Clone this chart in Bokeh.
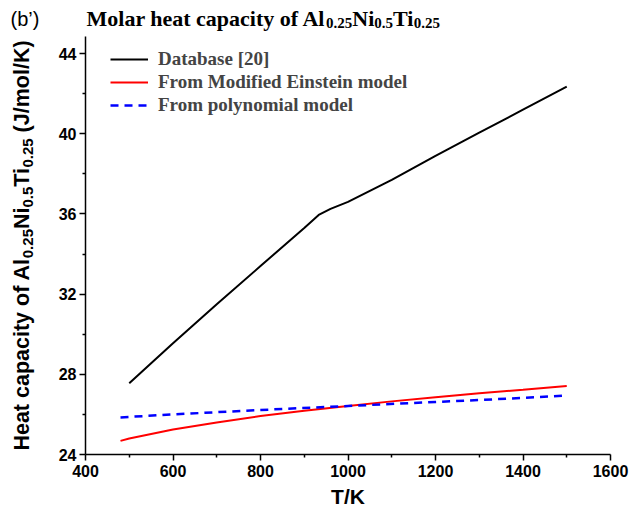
import math
from bokeh.plotting import figure
from bokeh.layouts import column, row
from bokeh.models import FixedTicker, Legend, LegendItem, Range1d
from bokeh.core.properties import value
from bokeh.embed import file_html
from bokeh.resources import INLINE

# ---------------- data ----------------
T_db = [500, 600, 700, 800, 900, 933, 960, 1000, 1100, 1200, 1300, 1400, 1500]
cp_db = [27.55, 29.55, 31.5, 33.4, 35.3, 35.95, 36.25, 36.6, 37.7, 38.9, 40.05, 41.2, 42.35]

T_me = [480, 500, 600, 700, 800, 900, 1000, 1100, 1200, 1300, 1400, 1500]
cp_me = [24.68, 24.8, 25.25, 25.6, 25.92, 26.18, 26.42, 26.65, 26.85, 27.05, 27.23, 27.42]

T_poly = [480, 600, 800, 1000, 1200, 1400, 1490]
cp_poly = [25.85, 26.0, 26.22, 26.42, 26.62, 26.82, 26.93]

series_names = ["Database [20]", "From Modified Einstein model", "From polynomial model"]
x_ticks = [400, 600, 800, 1000, 1200, 1400, 1600]
x_minor = [500, 700, 900, 1100, 1300, 1500]
y_ticks = [24, 28, 32, 36, 40, 44]
y_minor = [26, 30, 34, 38, 42]

title_parts = [("Molar heat capacity of Al", False), ("0.25", True), ("Ni", False),
               ("0.5", True), ("Ti", False), ("0.25", True)]
ylab_parts = [("Heat capacity of Al", False), ("0.25", True), ("Ni", False), ("0.5", True),
              ("Ti", False), ("0.25", True), (" ", False), ("(J/mol/K)", False)]

# ---------------- font metrics (Arial/Times bold compatible) ----------------
ARIAL_B = {' ': 278, 'H': 722, 'e': 556, 'a': 556, 't': 333, 'c': 556, 'p': 611, 'i': 278,
           'y': 556, 'o': 611, 'f': 333, 'A': 722, 'l': 278, 'N': 722, 'T': 611, '.': 278,
           '(': 333, ')': 333, 'J': 556, '/': 278, 'm': 889, 'K': 722}
TIMES_B = {' ': 250, 'M': 944, 'o': 500, 'l': 278, 'a': 500, 'r': 444, 'h': 556, 'e': 444,
           't': 333, 'c': 444, 'p': 556, 'i': 278, 'y': 500, 'f': 333, 'A': 722, 'N': 722,
           'T': 667, '.': 250}


def tw(s, table, size, digit):
    return sum(table.get(ch, digit) for ch in s) * size / 1000.0


# layout geometry (px)
H_TOP = 36            # title strip height
H_ROW = 478           # plot row height
B_TOP, B_BOTTOM = 0, 60
FRAME_H = H_ROW - B_TOP - B_BOTTOM
W_Y = 48              # y-label strip width


def blank_fig(w, h, xr, yr, bt=0, bb=0):
    f = figure(width=w, height=h, output_backend="svg", toolbar_location=None,
               x_axis_type=None, y_axis_type=None,
               x_range=Range1d(*xr), y_range=Range1d(*yr),
               min_border_left=0, min_border_right=0, min_border_top=bt, min_border_bottom=bb)
    f.outline_line_color = None
    f.background_fill_color = "white"
    f.border_fill_color = "white"
    return f


# ---------------- title strip ----------------
tfig = blank_fig(640, H_TOP, (0, 640), (0, H_TOP))
tfig.text(x=[10], y=[H_TOP - 18], text=["(b\u2019)"], text_font=value("Liberation Sans"),
          text_font_size="20px", text_align="left", text_baseline="alphabetic",
          text_color="black")
xpos = 86.0
for txt, sub in title_parts:
    size = 15 if sub else 22
    tfig.text(x=[xpos], y=[H_TOP - (22.5 if sub else 18)], text=[txt],
              text_font=value("Liberation Serif"), text_font_style="bold",
              text_font_size=f"{size}px", text_align="left",
              text_baseline="alphabetic", text_color="black")
    xpos += tw(txt, TIMES_B, size, 500)

# ---------------- y-label strip (frame matches the main frame) ----------------
yfig = blank_fig(W_Y, H_ROW, (0, W_Y), (0, FRAME_H), bt=B_TOP, bb=B_BOTTOM)
MAIN_SZ, SUB_SZ = 21.5, 15
total = sum(tw(t, ARIAL_B, SUB_SZ if s else MAIN_SZ, 556) for t, s in ylab_parts)
ypos = (FRAME_H - total) / 2.0
for txt, sub in ylab_parts:
    size = SUB_SZ if sub else MAIN_SZ
    if txt.strip():
        yfig.text(x=[27 if sub else 21], y=[ypos], text=[txt], angle=math.pi / 2,
                  text_font=value("Liberation Sans"), text_font_style="bold",
                  text_font_size=f"{size}px", text_align="left", text_baseline="middle",
                  text_color="black")
    ypos += tw(txt, ARIAL_B, size, 556)

# ---------------- main plot ----------------
p = figure(width=640 - W_Y, height=H_ROW, output_backend="svg", toolbar_location=None,
           x_range=Range1d(400, 1600), y_range=Range1d(24, 44.85),
           min_border_left=85 - W_Y, min_border_right=30,
           min_border_top=B_TOP, min_border_bottom=B_BOTTOM)
p.outline_line_color = None
p.xgrid.visible = False
p.ygrid.visible = False
p.background_fill_color = "white"
p.border_fill_color = "white"

r1 = p.line(T_db, cp_db, line_color="black", line_width=2)
r2 = p.line(T_me, cp_me, line_color="#ff0000", line_width=2)
r3 = p.line(T_poly, cp_poly, line_color="#0000ff", line_width=2.5, line_dash="8 6")

for ax in (p.xaxis[0], p.yaxis[0]):
    ax.axis_line_width = 1.5
    ax.major_tick_line_width = 1.5
    ax.minor_tick_line_width = 1.5
    ax.major_tick_out = 6
    ax.major_tick_in = 0
    ax.minor_tick_out = 3
    ax.minor_tick_in = 0
    ax.major_label_text_font = "Liberation Sans"
    ax.major_label_text_font_style = "bold"
    ax.major_label_text_font_size = "16px"
    ax.major_label_text_color = "black"
    ax.axis_line_color = "black"
    ax.major_tick_line_color = "black"
    ax.minor_tick_line_color = "black"

p.xaxis[0].ticker = FixedTicker(ticks=x_ticks, minor_ticks=x_minor)
p.yaxis[0].ticker = FixedTicker(ticks=y_ticks, minor_ticks=y_minor)
p.xaxis[0].major_label_standoff = 4
p.yaxis[0].major_label_standoff = 3
p.xaxis[0].axis_label = "T/K"
p.xaxis[0].axis_label_text_font = "Liberation Sans"
p.xaxis[0].axis_label_text_font_style = "bold"
p.xaxis[0].axis_label_text_font_size = "21px"
p.xaxis[0].axis_label_text_color = "black"
p.xaxis[0].axis_label_standoff = 5

legend = Legend(items=[LegendItem(label=series_names[0], renderers=[r1]),
                       LegendItem(label=series_names[1], renderers=[r2]),
                       LegendItem(label=series_names[2], renderers=[r3])],
                location=(25, 338))
legend.label_text_font = "Liberation Serif"
legend.label_text_font_style = "bold"
legend.label_text_font_size = "19px"
legend.glyph_width = 38
legend.glyph_height = 22
legend.label_height = 22
legend.spacing = 1
legend.padding = 5
legend.margin = 0
legend.label_standoff = 10
legend.border_line_color = None
legend.background_fill_alpha = 0
p.add_layout(legend, "center")

layout = column(tfig, row(yfig, p, spacing=0), spacing=0)
open("out.html", "w").write(file_html(layout, INLINE))
